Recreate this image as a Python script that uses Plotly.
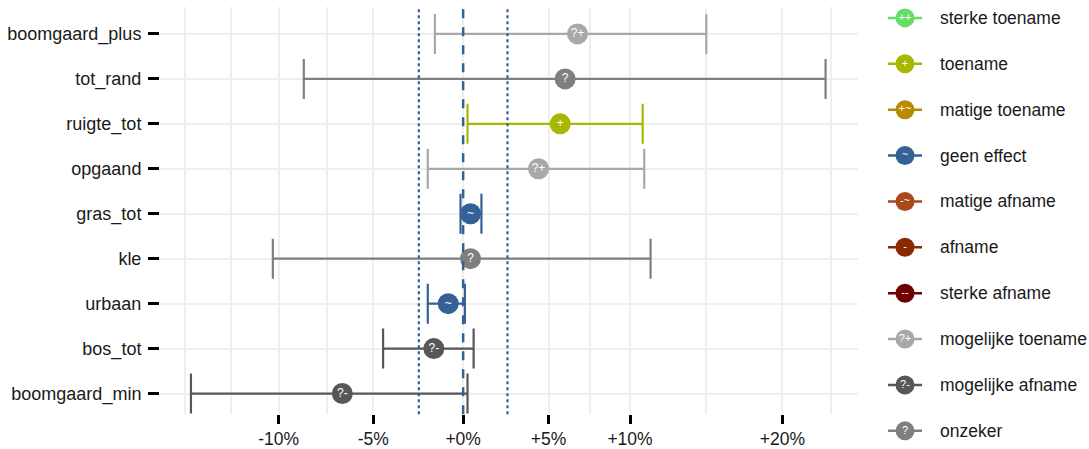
import numpy as np
import plotly.graph_objects as go

# ---- data (percent change) ----
variables = ["boomgaard_plus", "tot_rand", "ruigte_tot", "opgaand", "gras_tot",
             "kle", "urbaan", "bos_tot", "boomgaard_min"]
estimate = [6.75, 6.0, 5.7, 4.4, 0.42, 0.42, -0.85, -1.66, -6.67]
lower = [-1.6, -8.7, 0.25, -2.0, -0.15, -10.3, -2.0, -4.47, -14.4]
upper = [14.9, 23.0, 10.8, 10.9, 1.05, 11.3, 0.1, 0.6, 0.25]
effect_class = ["?+", "?", "+", "?+", "~", "?", "~", "?-", "?-"]

class_codes = ["++", "+", "+~", "~", "-~", "-", "--", "?+", "?-", "?"]
class_labels = ["sterke toename", "toename", "matige toename", "geen effect",
                "matige afname", "afname", "sterke afname", "mogelijke toename",
                "mogelijke afname", "onzeker"]
class_colors = ["#66dd66", "#a8b800", "#b88a00", "#356196", "#a8481c",
                "#8a2a00", "#6e0000", "#a8a8a8", "#575757", "#7f7f7f"]

tick_pct = [-10, -5, 0, 5, 10, 20]
tick_text = ["-10%", "-5%", "+0%", "+5%", "+10%", "+20%"]
minor_pct = [-14.7, -12.4, -7.5, 7.5, 14.9, 23.4]
threshold_pct = 2.5
x_range_pct = [-15.9, 25.3]

def tr(p):
    return np.log1p(np.asarray(p, dtype=float) / 100.0)

W, H = 1089, 449
FONT = "Liberation Sans"
fig = go.Figure()

for code, label, col in zip(class_codes, class_labels, class_colors):
    idx = [i for i, c in enumerate(effect_class) if c == code]
    if not idx:
        continue
    est = tr([estimate[i] for i in idx])
    lo = tr([lower[i] for i in idx])
    up = tr([upper[i] for i in idx])
    fig.add_trace(go.Scatter(
        x=est, y=[variables[i] for i in idx],
        mode="markers+text", text=[code] * len(idx),
        textposition="middle center",
        textfont=dict(color="white", size=12, family=FONT),
        marker=dict(size=21, color=col, line=dict(width=0)),
        error_x=dict(type="data", symmetric=False, array=up - est,
                     arrayminus=est - lo, color=col, thickness=2.2, width=20),
        showlegend=False, xaxis="x", yaxis="y", cliponaxis=False))

for k, (code, label, col) in enumerate(zip(class_codes, class_labels, class_colors)):
    fig.add_trace(go.Scatter(x=[-1, 1], y=[label, label], mode="lines",
                             line=dict(color=col, width=2.5),
                             showlegend=False, xaxis="x2", yaxis="y2"))
    fig.add_trace(go.Scatter(x=[0], y=[label], mode="markers+text", text=[code],
                             textposition="middle center",
                             textfont=dict(color="white", size=11, family=FONT),
                             marker=dict(size=19, color=col),
                             showlegend=False, xaxis="x2", yaxis="y2"))
    fig.add_annotation(x=1.95, y=label, xref="x2", yref="y2", text=label,
                       showarrow=False, xanchor="left", yanchor="middle",
                       font=dict(size=17.5, color="#1a1a1a", family=FONT))

blue = "#356196"
fig.add_shape(type="line", xref="x", yref="paper", x0=0, x1=0, y0=0.0713, y1=0.9844,
              line=dict(color=blue, width=2.5, dash="dash"), layer="above")
for t in [-threshold_pct, threshold_pct]:
    v = float(np.log1p(t / 100.0)) if t < 0 else float(-np.log1p(-t / 100.0))
    fig.add_shape(type="line", xref="x", yref="paper", x0=v, x1=v, y0=0.0713, y1=0.9844,
                  line=dict(color=blue, width=2.2, dash="dot"), layer="above")

grid = "#efefef"
fig.update_layout(
    width=W, height=H, margin=dict(l=0, r=0, t=0, b=0),
    plot_bgcolor="white", paper_bgcolor="white",
    font=dict(family=FONT, size=17.5, color="#1a1a1a"),
    xaxis=dict(domain=[160 / W, 858 / W], range=list(tr(x_range_pct)),
               tickmode="array", tickvals=list(tr(tick_pct)), ticktext=tick_text,
               showgrid=True, gridcolor=grid, gridwidth=2, zeroline=False,
               ticks="outside", ticklen=9, tickwidth=2.5, tickcolor="black",
               tickfont=dict(size=17.5, color="#1a1a1a"), showline=False,
               minor=dict(tickvals=list(tr(minor_pct)), showgrid=True,
                          gridcolor=grid, gridwidth=1.5, ticks=""),
               anchor="y", fixedrange=True),
    yaxis=dict(domain=[0.0713, 0.9844], categoryorder="array",
               categoryarray=variables[::-1], range=[-0.46, 8.6],
               showgrid=True, gridcolor=grid, gridwidth=2, zeroline=False,
               ticks="outside", ticklen=11, tickwidth=3, tickcolor="black",
               tickfont=dict(size=18, color="#1a1a1a"), ticklabelstandoff=3,
               anchor="x"),
    xaxis2=dict(domain=[871.2 / W, 1.0], range=[-1.988, 10.82], visible=False,
                anchor="y2"),
    yaxis2=dict(domain=[0, 1], categoryorder="array", categoryarray=class_labels,
                range=[9.33, -0.39], visible=False, anchor="x2"),
)

fig.write_html("out.html", config={"displayModeBar": False},
               post_script="document.body.style.margin='0';document.body.style.overflow='hidden';")
